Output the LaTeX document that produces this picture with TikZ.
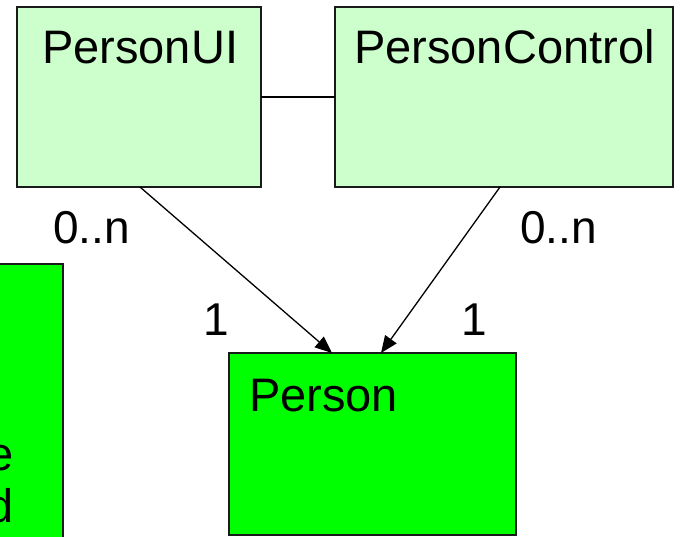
\documentclass[tikz,border=0pt]{standalone}
\usepackage{fontspec}
\setmainfont{Liberation Sans}
\usetikzlibrary{arrows.meta,calc}
\definecolor{classpale}{HTML}{CCFFCC}
\definecolor{classbright}{HTML}{00FF00}
\definecolor{edgegray}{HTML}{1A1A1A}
\tikzset{
  x=1pt, y=-1pt,
  classbox/.style={draw=edgegray, line width=1.8pt, anchor=north west, inner sep=0pt, outer sep=0pt},
  boxtext/.style={anchor=base west, inner sep=0pt, font=\fontsize{47}{52}\selectfont},
  multiplicity/.style={anchor=base west, inner sep=0pt, font=\fontsize{46}{52}\selectfont},
  assoc/.style={draw=black, line width=1.3pt},
  navig/.style={draw=black, line width=1.3pt, -{Triangle[length=17pt,width=14pt]}}
}
\begin{document}
\begin{tikzpicture}
\useasboundingbox (0,0) rectangle (685,536);
\clip (0,0) rectangle (685,536);

% class boxes
\node[classbox, fill=classpale, minimum width=244pt, minimum height=180pt] (ui) at (17,7) {};
\node[classbox, fill=classpale, minimum width=338pt, minimum height=180pt] (ctrl) at (335,7) {};
\node[classbox, fill=classbright, minimum width=287pt, minimum height=182pt] (person) at (229,353) {};
\node[classbox, fill=classbright, minimum width=90pt, minimum height=300pt] (side) at (-27,264) {};

% class names
\node[boxtext] (uiname) at (42,63) {PersonUI};
\node[boxtext] (ctrlname) at (354,63) {PersonControl};
\node[boxtext] (personname) at (249,411) {Person};
\node[boxtext, anchor=base east] (sidee) at (14,470) {e};
\node[boxtext, anchor=base east] (sided) at (14,522) {d};

% association between UI and control
\draw[assoc] (ui.east |- 0,97) -- (ctrl.west |- 0,97);

% navigable associations towards Person
\coordinate (uifoot) at ($(ui.south west)+(123,0)$);
\coordinate (ctrlfoot) at ($(ctrl.south west)+(165,0)$);
\coordinate (personleft) at ($(person.north west)+(103,0)$);
\coordinate (personright) at ($(person.north west)+(152,0)$);
\draw[navig] (uifoot) -- (personleft);
\draw[navig] (ctrlfoot) -- (personright);

% multiplicities
\node[multiplicity] (m1) at (53,243) {0..n};
\node[multiplicity] (m2) at (520,243) {0..n};
\node[multiplicity] (m3) at (203,335) {1};
\node[multiplicity] (m4) at (461,335) {1};
\end{tikzpicture}
\end{document}
